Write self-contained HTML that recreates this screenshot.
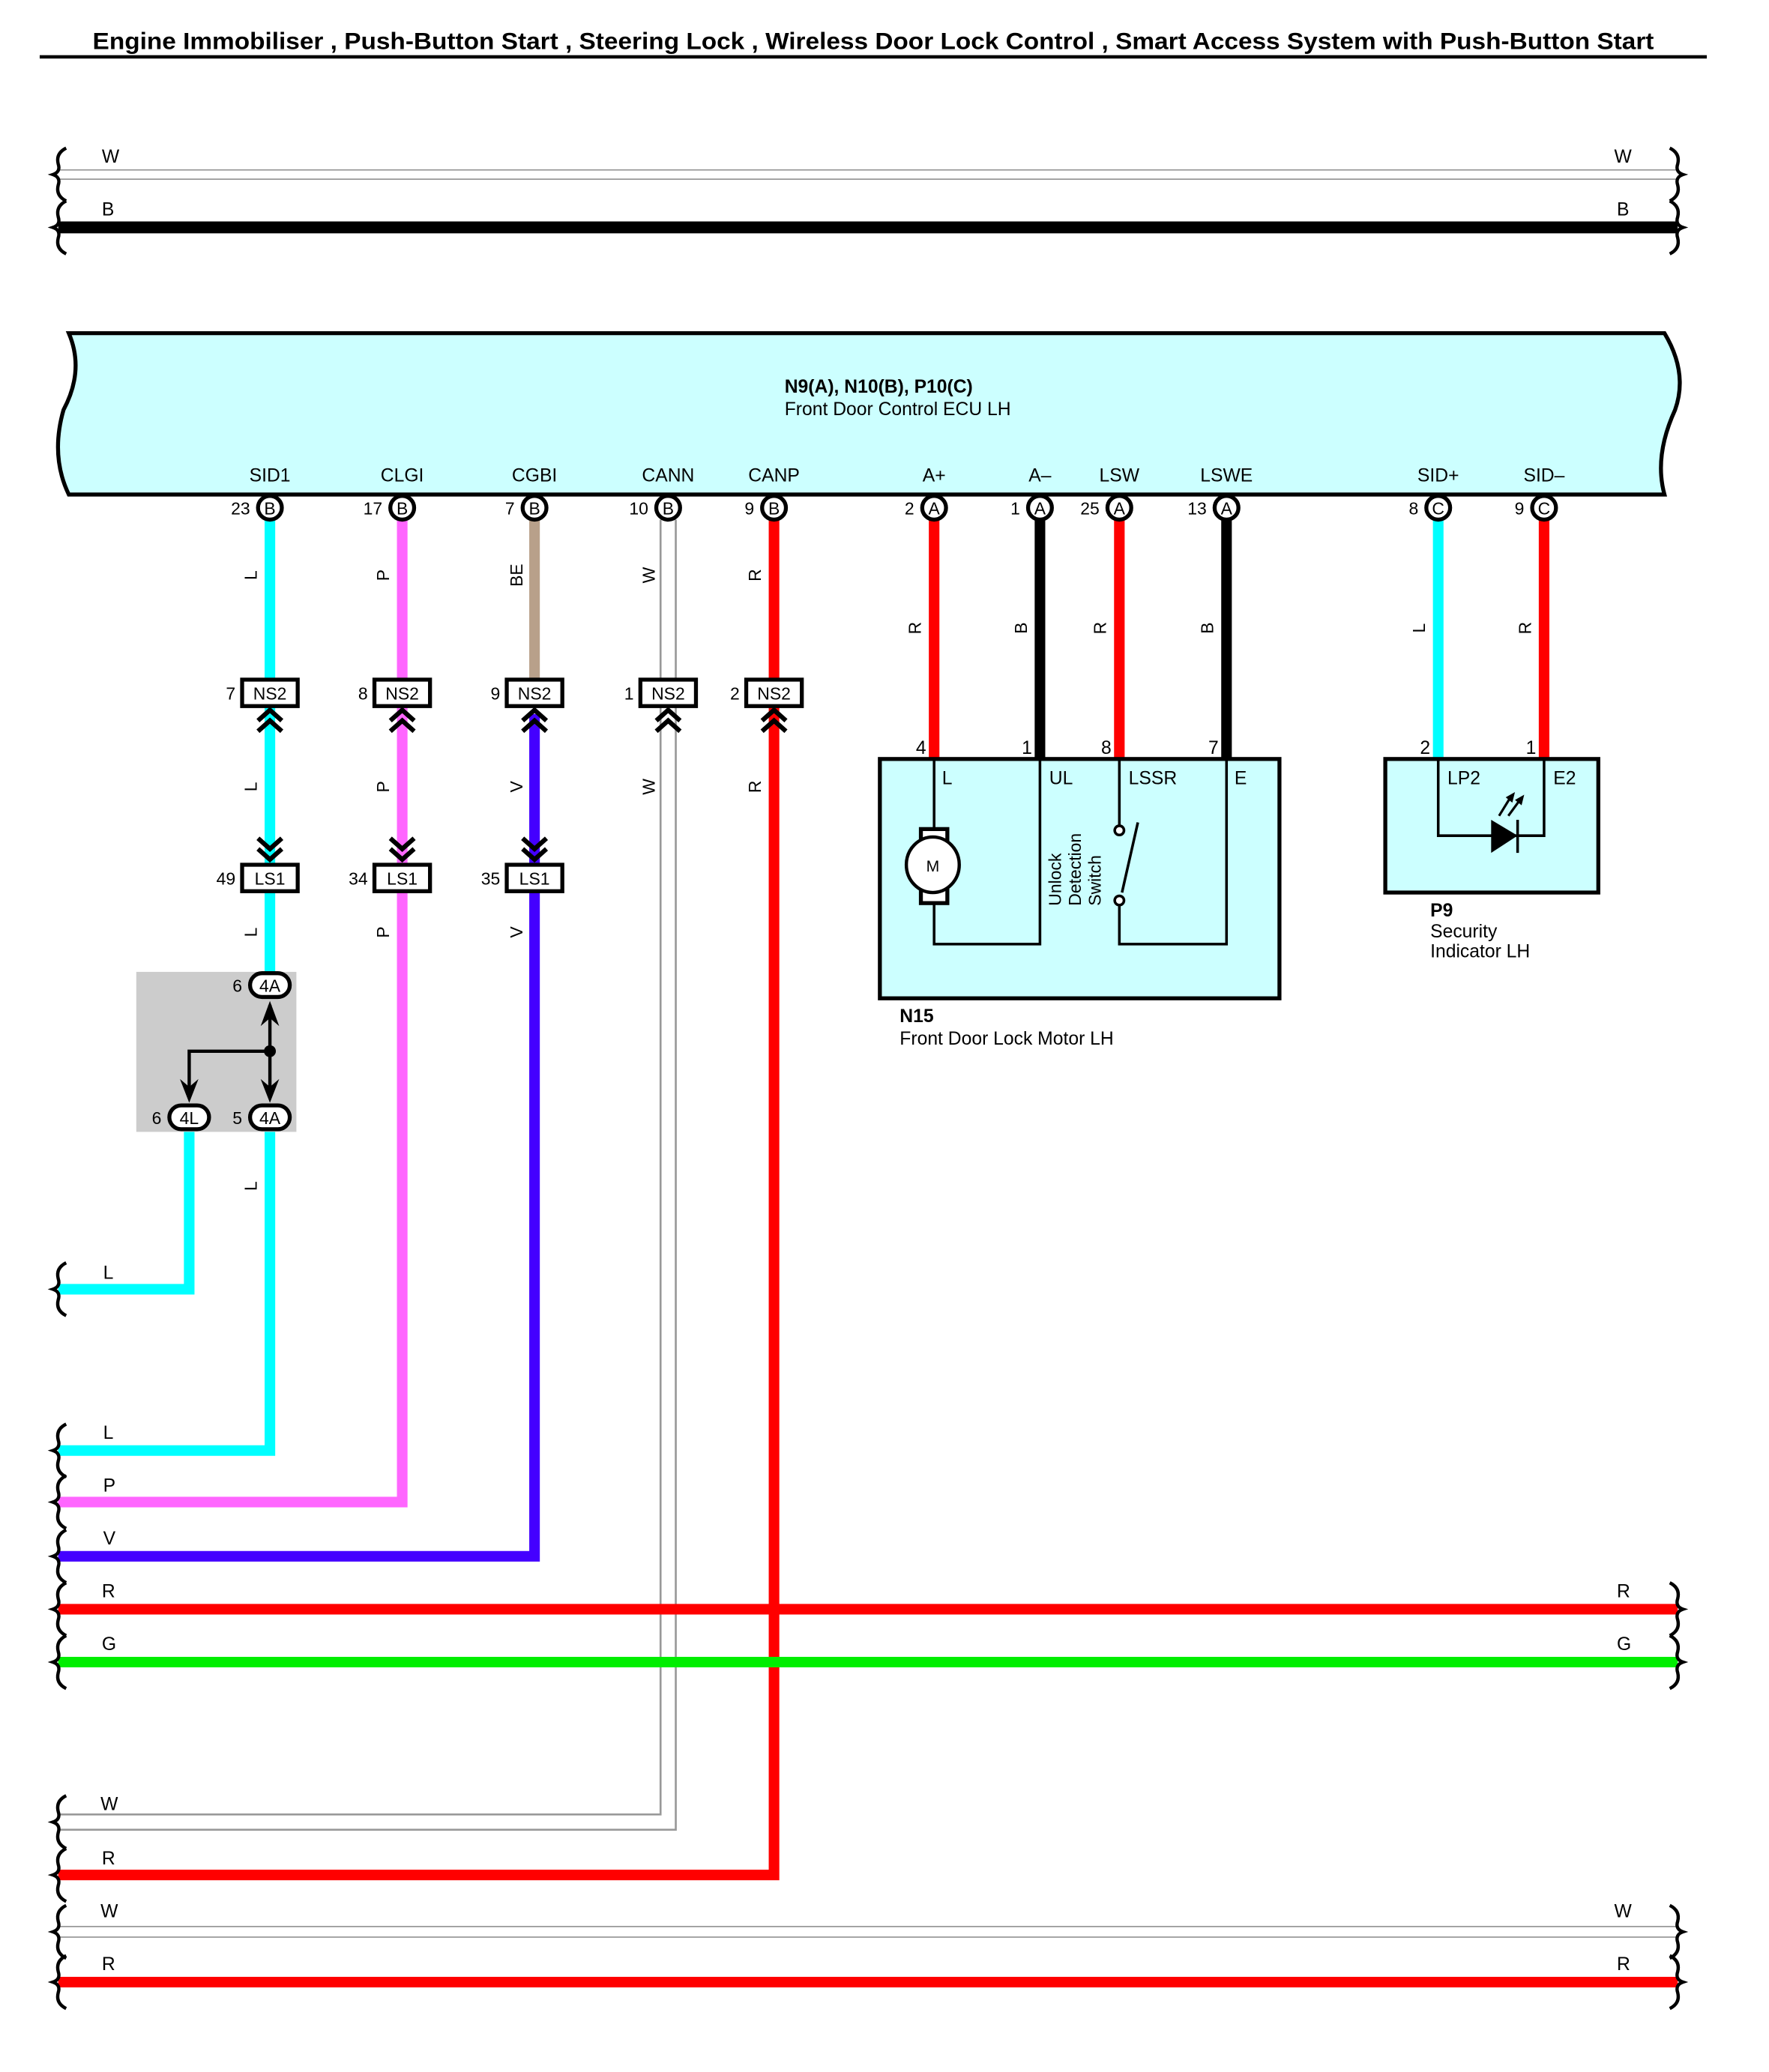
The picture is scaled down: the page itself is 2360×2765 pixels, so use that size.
<!DOCTYPE html>
<html><head><meta charset="utf-8"><style>html,body{margin:0;padding:0;background:#fff}svg{display:block}text{font-family:"Liberation Sans",sans-serif}</style></head><body>
<svg width="2360" height="2765" viewBox="0 0 1337 1567" preserveAspectRatio="none" xmlns="http://www.w3.org/2000/svg">
<defs>
<g id="brk"><path d="M6,-20 Q-2,-16 0,-8 Q2,-2 -4,0 Q2,2 0,8 Q-2,16 6,20" fill="none" stroke="#000" stroke-width="2.5"/></g>
<g id="brr"><path d="M-6,-20 Q2,-16 0,-8 Q-2,-2 4,0 Q-2,2 0,8 Q2,16 -6,20" fill="none" stroke="#000" stroke-width="2.5"/></g>
<g id="up"><path d="M-9,10 L0,2 L9,10 M-9,18 L0,10 L9,18" fill="none" stroke="#000" stroke-width="3.5"/></g>
<g id="dn"><path d="M-9,-10 L0,-2 L9,-10 M-9,-18 L0,-10 L9,-18" fill="none" stroke="#000" stroke-width="3.5"/></g>
</defs>
<text x="70" y="37" font-size="18" font-weight="bold" textLength="1180" lengthAdjust="spacingAndGlyphs">Engine Immobiliser , Push-Button Start , Steering Lock , Wireless Door Lock Control , Smart Access System with Push-Button Start</text>
<line x1="30" y1="43" x2="1290" y2="43" stroke="#000" stroke-width="2.5"/>

<line x1="44" y1="132" x2="1268" y2="132" stroke="#999" stroke-width="8"/>
<line x1="44" y1="132" x2="1268" y2="132" stroke="#fff" stroke-width="6"/>
<line x1="44" y1="172" x2="1268" y2="172" stroke="#000" stroke-width="9"/>
<use href="#brk" x="44" y="132"/><use href="#brk" x="44" y="172"/>
<use href="#brr" x="1268" y="132"/><use href="#brr" x="1268" y="172"/>
<g font-size="14"><text x="77" y="123">W</text><text x="77" y="163">B</text><text x="1220" y="123">W</text><text x="1222" y="163">B</text></g>

<path d="M52,252 L1258,252 Q1276,282 1266,310 Q1250,345 1258,374 L52,374 Q38,345 48,310 Q64,280 52,252 Z" fill="#ccffff" stroke="#000" stroke-width="3"/>
<text x="593" y="297" font-size="14" font-weight="bold">N9(A), N10(B), P10(C)</text>
<text x="593" y="314" font-size="14">Front Door Control ECU LH</text>

<g fill="none" stroke-linejoin="miter">
<polyline points="204,393 204,1097 44,1097" stroke="#00ffff" stroke-width="8"/>
<polyline points="143,855 143,975 44,975" stroke="#00ffff" stroke-width="8"/>
<polyline points="304,393 304,1136 44,1136" stroke="#ff66ff" stroke-width="8"/>
<line x1="404" y1="393" x2="404" y2="516" stroke="#b8a08a" stroke-width="8"/>
<polyline points="404,540 404,1177 44,1177" stroke="#4400ff" stroke-width="8"/>
<polyline points="505,393 505,1378 44,1378" stroke="#999" stroke-width="13"/>
<polyline points="505,393 505,1378 44,1378" stroke="#fff" stroke-width="10"/>
<polyline points="585,393 585,1418 44,1418" stroke="#ff0000" stroke-width="8"/>
<line x1="44" y1="1217" x2="1268" y2="1217" stroke="#ff0000" stroke-width="8"/>
<line x1="44" y1="1257" x2="1268" y2="1257" stroke="#00ee00" stroke-width="8"/>
<line x1="44" y1="1461" x2="1268" y2="1461" stroke="#999" stroke-width="9"/>
<line x1="44" y1="1461" x2="1268" y2="1461" stroke="#fff" stroke-width="7"/>
<line x1="44" y1="1499" x2="1268" y2="1499" stroke="#ff0000" stroke-width="8"/>
<line x1="706" y1="393" x2="706" y2="574" stroke="#ff0000" stroke-width="8"/>
<line x1="786" y1="393" x2="786" y2="574" stroke="#000" stroke-width="8"/>
<line x1="846" y1="393" x2="846" y2="574" stroke="#ff0000" stroke-width="8"/>
<line x1="927" y1="393" x2="927" y2="574" stroke="#000" stroke-width="8"/>
<line x1="1087" y1="393" x2="1087" y2="574" stroke="#00ffff" stroke-width="8"/>
<line x1="1167" y1="393" x2="1167" y2="574" stroke="#ff0000" stroke-width="8"/>
</g>
<g>
<use href="#brk" x="44" y="975"/><use href="#brk" x="44" y="1097"/><use href="#brk" x="44" y="1136"/><use href="#brk" x="44" y="1177"/>
<use href="#brk" x="44" y="1217"/><use href="#brk" x="44" y="1257"/><use href="#brk" x="44" y="1378"/><use href="#brk" x="44" y="1418"/>
<use href="#brk" x="44" y="1461"/><use href="#brk" x="44" y="1499"/>
<use href="#brr" x="1268" y="1217"/><use href="#brr" x="1268" y="1257"/><use href="#brr" x="1268" y="1461"/><use href="#brr" x="1268" y="1499"/>
</g>
<g font-size="14">
<text x="78" y="967">L</text><text x="78" y="1088">L</text><text x="78" y="1128">P</text><text x="78" y="1168">V</text>
<text x="77" y="1208">R</text><text x="77" y="1248">G</text><text x="76" y="1369">W</text><text x="77" y="1410">R</text>
<text x="76" y="1450">W</text><text x="77" y="1490">R</text>
<text x="1222" y="1208">R</text><text x="1222" y="1248">G</text><text x="1220" y="1450">W</text><text x="1222" y="1490">R</text>
</g>

<g font-size="14" text-anchor="middle">
<text x="204" y="364">SID1</text><text x="304" y="364">CLGI</text><text x="404" y="364">CGBI</text><text x="505" y="364">CANN</text><text x="585" y="364">CANP</text>
<text x="706" y="364">A+</text><text x="786" y="364">A–</text><text x="846" y="364">LSW</text><text x="927" y="364">LSWE</text>
<text x="1087" y="364">SID+</text><text x="1167" y="364">SID–</text>
</g>
<g font-size="13">
<g fill="#fff" stroke="#000" stroke-width="3">
<circle cx="204" cy="384" r="9"/><circle cx="304" cy="384" r="9"/><circle cx="404" cy="384" r="9"/><circle cx="505" cy="384" r="9"/><circle cx="585" cy="384" r="9"/>
<circle cx="706" cy="384" r="9"/><circle cx="786" cy="384" r="9"/><circle cx="846" cy="384" r="9"/><circle cx="927" cy="384" r="9"/>
<circle cx="1087" cy="384" r="9"/><circle cx="1167" cy="384" r="9"/>
</g>
<g text-anchor="middle">
<text x="204" y="389">B</text><text x="304" y="389">B</text><text x="404" y="389">B</text><text x="505" y="389">B</text><text x="585" y="389">B</text>
<text x="706" y="389">A</text><text x="786" y="389">A</text><text x="846" y="389">A</text><text x="927" y="389">A</text>
<text x="1087" y="389">C</text><text x="1167" y="389">C</text>
</g>
<g text-anchor="end">
<text x="189" y="389">23</text><text x="289" y="389">17</text><text x="389" y="389">7</text><text x="490" y="389">10</text><text x="570" y="389">9</text>
<text x="691" y="389">2</text><text x="771" y="389">1</text><text x="831" y="389">25</text><text x="912" y="389">13</text>
<text x="1072" y="389">8</text><text x="1152" y="389">9</text>
</g>
</g>

<g font-size="13" text-anchor="middle">
<text transform="translate(194,435) rotate(-90)">L</text>
<text transform="translate(294,435) rotate(-90)">P</text>
<text transform="translate(395,435) rotate(-90)">BE</text>
<text transform="translate(495,435) rotate(-90)">W</text>
<text transform="translate(575,435) rotate(-90)">R</text>
<text transform="translate(194,595) rotate(-90)">L</text>
<text transform="translate(294,595) rotate(-90)">P</text>
<text transform="translate(395,595) rotate(-90)">V</text>
<text transform="translate(495,595) rotate(-90)">W</text>
<text transform="translate(575,595) rotate(-90)">R</text>
<text transform="translate(194,705) rotate(-90)">L</text>
<text transform="translate(294,705) rotate(-90)">P</text>
<text transform="translate(395,705) rotate(-90)">V</text>
<text transform="translate(194,897) rotate(-90)">L</text>
<text transform="translate(696,475) rotate(-90)">R</text>
<text transform="translate(776,475) rotate(-90)">B</text>
<text transform="translate(836,475) rotate(-90)">R</text>
<text transform="translate(917,475) rotate(-90)">B</text>
<text transform="translate(1077,475) rotate(-90)">L</text>
<text transform="translate(1157,475) rotate(-90)">R</text>
</g>

<g font-size="13">
<g fill="#fff" stroke="#000" stroke-width="3">
<rect x="183" y="514" width="42" height="20"/><rect x="283" y="514" width="42" height="20"/><rect x="383" y="514" width="42" height="20"/><rect x="484" y="514" width="42" height="20"/><rect x="564" y="514" width="42" height="20"/>
<rect x="183" y="654" width="42" height="20"/><rect x="283" y="654" width="42" height="20"/><rect x="383" y="654" width="42" height="20"/>
</g>
<g text-anchor="middle">
<text x="204" y="529">NS2</text><text x="304" y="529">NS2</text><text x="404" y="529">NS2</text><text x="505" y="529">NS2</text><text x="585" y="529">NS2</text>
<text x="204" y="669">LS1</text><text x="304" y="669">LS1</text><text x="404" y="669">LS1</text>
</g>
<g text-anchor="end">
<text x="178" y="529">7</text><text x="278" y="529">8</text><text x="378" y="529">9</text><text x="479" y="529">1</text><text x="559" y="529">2</text>
<text x="178" y="669">49</text><text x="278" y="669">34</text><text x="378" y="669">35</text>
</g>
</g>
<use href="#up" x="204" y="535"/><use href="#up" x="304" y="535"/><use href="#up" x="404" y="535"/><use href="#up" x="505" y="535"/><use href="#up" x="585" y="535"/>
<use href="#dn" x="204" y="652"/><use href="#dn" x="304" y="652"/><use href="#dn" x="404" y="652"/>

<rect x="103" y="735" width="121" height="121" fill="#cccccc"/>
<line x1="204" y1="734" x2="204" y2="736" stroke="#00ffff" stroke-width="8"/>
<polyline points="204,760 204,830" fill="none" stroke="#000" stroke-width="2.5"/>
<polyline points="204,795 143,795 143,830" fill="none" stroke="#000" stroke-width="2.5"/>
<circle cx="204" cy="795" r="4.5"/>
<path d="M197,776 L204,757 L211,776 L204,770 Z"/>
<path d="M136,816 L143,834 L150,816 L143,822 Z"/>
<path d="M197,816 L204,834 L211,816 L204,822 Z"/>
<g fill="#fff" stroke="#000" stroke-width="3">
<rect x="189" y="736" width="30" height="18" rx="9"/>
<rect x="189" y="836" width="30" height="18" rx="9"/>
<rect x="128" y="836" width="30" height="18" rx="9"/>
</g>
<g font-size="13">
<text x="204" y="750" text-anchor="middle">4A</text><text x="204" y="850" text-anchor="middle">4A</text><text x="143" y="850" text-anchor="middle">4L</text>
<text x="183" y="750" text-anchor="end">6</text><text x="183" y="850" text-anchor="end">5</text><text x="122" y="850" text-anchor="end">6</text>
</g>

<rect x="665" y="574" width="302" height="181" fill="#ccffff" stroke="#000" stroke-width="3"/>
<g fill="none" stroke="#000" stroke-width="2">
<polyline points="706,574 706,630"/><polyline points="706,680 706,714 786,714 786,574"/>
<polyline points="846,574 846,624"/><polyline points="846,685 846,714 927,714 927,574"/>
<line x1="848" y1="675" x2="860" y2="622"/>
<circle cx="846" cy="628" r="3.5" fill="#fff"/><circle cx="846" cy="681" r="3.5" fill="#fff"/>
</g>
<rect x="696" y="627" width="20" height="56" fill="#fff" stroke="#000" stroke-width="3"/>
<ellipse cx="705" cy="654" rx="20" ry="21" fill="#fff" stroke="#000" stroke-width="2.5"/>
<text x="705" y="659" font-size="12" text-anchor="middle">M</text>
<g font-size="14">
<text x="712" y="593">L</text><text x="793" y="593">UL</text><text x="853" y="593">LSSR</text><text x="933" y="593">E</text>
<text x="700" y="570" text-anchor="end">4</text><text x="780" y="570" text-anchor="end">1</text><text x="840" y="570" text-anchor="end">8</text><text x="921" y="570" text-anchor="end">7</text>
<text x="1081" y="570" text-anchor="end">2</text><text x="1161" y="570" text-anchor="end">1</text>
<text x="680" y="773" font-weight="bold">N15</text>
<text x="680" y="790">Front Door Lock Motor LH</text>
</g>
<g font-size="13">
<text transform="translate(802,685) rotate(-90)">Unlock</text>
<text transform="translate(817,685) rotate(-90)">Detection</text>
<text transform="translate(832,685) rotate(-90)">Switch</text>
</g>

<rect x="1047" y="574" width="161" height="101" fill="#ccffff" stroke="#000" stroke-width="3"/>
<polyline points="1087,574 1087,632 1167,632 1167,574" fill="none" stroke="#000" stroke-width="2"/>
<path d="M1127,620 L1147,632 L1127,645 Z"/>
<line x1="1147" y1="620" x2="1147" y2="645" stroke="#000" stroke-width="2"/>
<g stroke="#000" stroke-width="1.8"><line x1="1133" y1="617" x2="1141" y2="604"/><line x1="1140" y1="617" x2="1148" y2="606"/></g>
<path d="M1138,603 L1145,599 L1143,607 Z"/><path d="M1145,605 L1152,601 L1150,609 Z"/>
<g font-size="14">
<text x="1094" y="593">LP2</text><text x="1174" y="593">E2</text>
<text x="1081" y="693" font-weight="bold">P9</text>
<text x="1081" y="709">Security</text>
<text x="1081" y="724">Indicator LH</text>
</g>
</svg>
</body></html>
